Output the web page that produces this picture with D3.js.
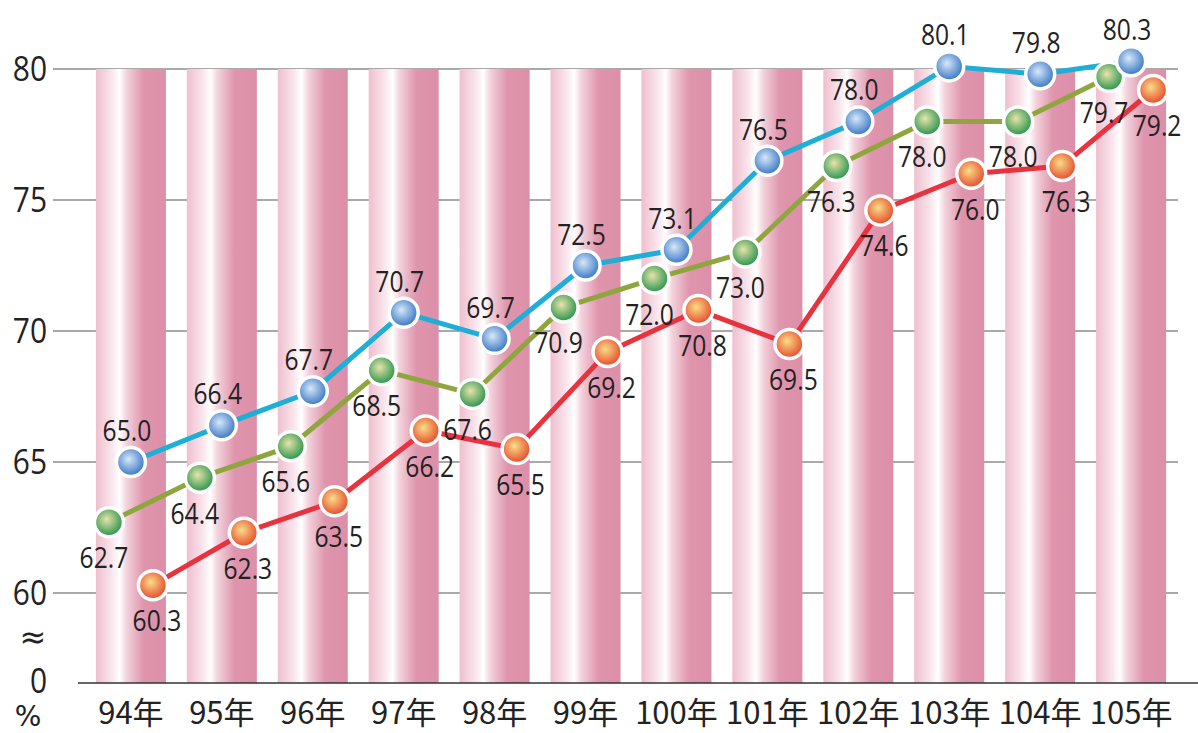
<!DOCTYPE html>
<html>
<head>
<meta charset="utf-8">
<script src="https://cdn.jsdelivr.net/npm/d3@7"></script>
<style>
body { margin: 0; background: #fff; }
svg { display: block; }
</style>
</head>
<body>
<svg id="chart" width="1198" height="733"></svg>
<script>
var years = ["94年","95年","96年","97年","98年","99年","100年","101年","102年","103年","104年","105年"];
var blueVals  = [65.0, 66.4, 67.7, 70.7, 69.7, 72.5, 73.1, 76.5, 78.0, 80.1, 79.8, 80.3];
var greenVals = [62.7, 64.4, 65.6, 68.5, 67.6, 70.9, 72.0, 73.0, 76.3, 78.0, 78.0, 79.7];
var redVals   = [60.3, 62.3, 63.5, 66.2, 65.5, 69.2, 70.8, 69.5, 74.6, 76.0, 76.3, 79.2];
var yTicks = [60, 65, 70, 75, 80];

var svg = d3.select("#chart");
var defs = svg.append("defs");

var x = d3.scaleBand().domain(years).range([85, 1177]).paddingInner(0.23).paddingOuter(0.12);
var y = d3.scaleLinear().domain([60, 80]).range([593, 69]);
var baseY = 683;

// bar gradient
var bg = defs.append("linearGradient").attr("id", "barGrad");
[[0,"#efbfce"],[0.22,"#f9e4eb"],[0.34,"#ffffff"],[0.44,"#f3d2dc"],[0.68,"#df95ad"],[1,"#dc8fa8"]].forEach(function(s){
	bg.append("stop").attr("offset", s[0]).attr("stop-color", s[1]);
});

var markerGrad = function(id, c0, c1){
	var g = defs.append("radialGradient").attr("id", id)
		.attr("cx", "45%").attr("cy", "42%").attr("r", "58%").attr("fx", "42%").attr("fy", "40%");
	g.append("stop").attr("offset", 0).attr("stop-color", c0);
	g.append("stop").attr("offset", 1).attr("stop-color", c1);
};
markerGrad("gBlue", "#d8e8f8", "#3474c4");
markerGrad("gGreen", "#e8e4aa", "#22924a");
markerGrad("gRed", "#f9de88", "#e6462a");

// grid lines
svg.append("g").selectAll("line").data(yTicks).enter().append("line")
	.attr("x1", 53).attr("x2", 1178)
	.attr("y1", function(d){ return y(d); }).attr("y2", function(d){ return y(d); })
	.style("stroke", "#555").style("stroke-width", 1.2);

// bars
svg.append("g").selectAll("rect").data(years).enter().append("rect")
	.attr("x", function(d){ return x(d); })
	.attr("y", y(80))
	.attr("width", x.bandwidth())
	.attr("height", baseY - y(80))
	.style("fill", "url(#barGrad)");

// baseline
svg.append("line").attr("x1", 78).attr("x2", 1198).attr("y1", baseY).attr("y2", baseY)
	.style("stroke", "#333").style("stroke-width", 1.5);

var numFont = "'Open Sans','Noto Sans',sans-serif";

// narrow text: squeeze horizontally to look like the condensed face
var narrowText = function(g, tx, ty, str, size, anchor, sx){
	return g.append("text")
		.attr("transform", "translate(" + tx + "," + ty + ") scale(" + sx + ",1)")
		.attr("text-anchor", anchor)
		.style("font-family", numFont).style("font-size", size + "px").style("fill", "#222")
		.text(str);
};

// y tick labels
var axisG = svg.append("g");
yTicks.forEach(function(t){
	narrowText(axisG, 47, y(t) + 12, t, 34, "end", 0.88);
});
narrowText(axisG, 47, baseY + 10, "0", 34, "end", 0.88);
svg.append("text").attr("x", 33).attr("y", 648).attr("text-anchor", "middle")
	.style("font-family", "'DejaVu Sans',sans-serif").style("font-size", "32px").style("fill", "#222").text("≈");
svg.append("text").attr("x", 28).attr("y", 726).attr("text-anchor", "middle")
	.style("font-family", "'DejaVu Sans',sans-serif").style("font-size", "28px").style("fill", "#222").text("%");

// x labels
svg.append("g").selectAll("text").data(years).enter().append("text")
	.attr("x", function(d){ return x(d) + x.bandwidth() / 2; })
	.attr("y", 724)
	.attr("text-anchor", "middle")
	.style("font-family", "'Noto Sans CJK TC',sans-serif")
	.style("font-size", "31px").style("fill", "#222")
	.text(function(d){ return d; });

var series = [
	{ vals: greenVals, line: "#8fa63e", grad: "gGreen", dx: -22, lx: -5, ly: 46 },
	{ vals: redVals, line: "#e8323e", grad: "gRed", dx: 22, lx: 4, ly: 46 },
	{ vals: blueVals, line: "#1eaed6", grad: "gBlue", dx: 0, lx: -4, ly: -21 }
];

var cx = function(s, i){ return x(years[i]) + x.bandwidth() / 2 + s.dx; };

series.forEach(function(s){
	var line = d3.line()
		.x(function(d, i){ return cx(s, i); })
		.y(function(d){ return y(d); });
	svg.append("path").datum(s.vals).attr("d", line)
		.style("fill", "none").style("stroke", s.line).style("stroke-width", 5)
		.style("stroke-linejoin", "round");
});

series.forEach(function(s){
	svg.append("g").selectAll("circle").data(s.vals).enter().append("circle")
		.attr("cx", function(d, i){ return cx(s, i); })
		.attr("cy", function(d){ return y(d); })
		.attr("r", 14.5)
		.style("fill", "url(#" + s.grad + ")")
		.style("stroke", "#fff").style("stroke-width", 3.5);
});

series.forEach(function(s){
	var g = svg.append("g");
	s.vals.forEach(function(d, i){
		narrowText(g, cx(s, i) + s.lx, y(d) + s.ly, d.toFixed(1), 30, "middle", 0.82);
	});
});
</script>
</body>
</html>
